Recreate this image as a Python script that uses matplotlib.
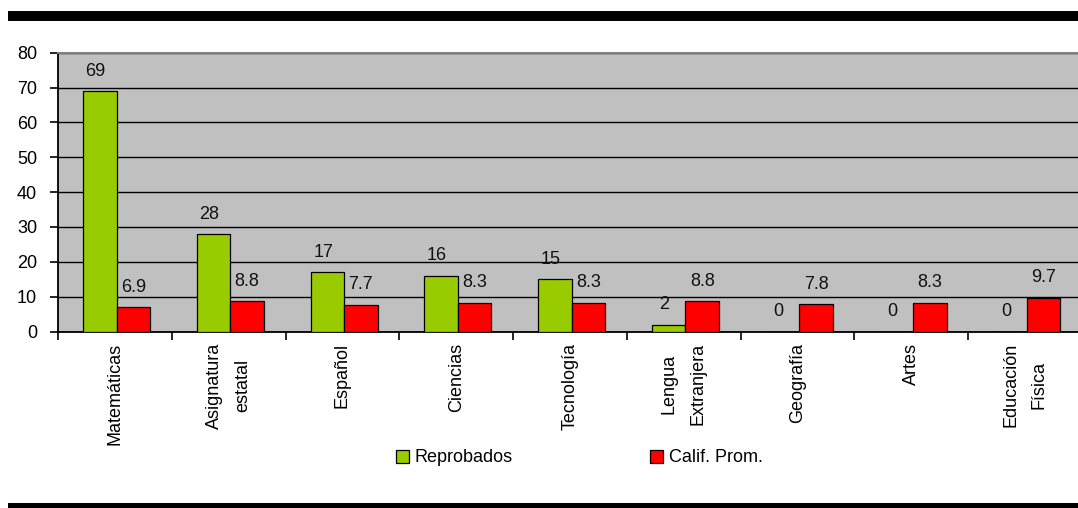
import matplotlib
matplotlib.use("Agg")
import matplotlib.pyplot as plt
from matplotlib.patches import Rectangle, Patch
from matplotlib.ticker import FixedLocator, MultipleLocator
import numpy as np

# Data
materias = ["Matemáticas", "Asignatura\nestatal", "Español", "Ciencias", "Tecnología",
            "Lengua\nExtranjera", "Geografía", "Artes", "Educación\nFísica"]
reprobados = [69, 28, 17, 16, 15, 2, 0, 0, 0]
calif_prom = [6.9, 8.8, 7.7, 8.3, 8.3, 8.8, 7.8, 8.3, 9.7]
yticks = [0, 10, 20, 30, 40, 50, 60, 70, 80]

plt.rcParams["font.family"] = ["Liberation Sans", "DejaVu Sans"]
FS = 13

W, H = 1078, 508
fig = plt.figure(figsize=(W / 100, H / 100), dpi=100, facecolor="white")

# plot area in pixel coordinates (left, top, right, bottom)
px_l, px_t, px_r, px_b = 58, 52.7, 1082, 331.5
ax = fig.add_axes([px_l / W, (H - px_b) / H, (px_r - px_l) / W, (px_b - px_t) / H])
ax.set_facecolor("#C0C0C0")
ax.set_axisbelow(True)

n = len(materias)
centers = np.arange(n) + 0.515
bw = 0.295
green = "#99CC00"
red = "#FF0000"

ax.bar(centers - bw / 2, reprobados, width=bw, color=green, edgecolor="black", linewidth=0.9, zorder=3)
ax.bar(centers + bw / 2, calif_prom, width=bw, color=red, edgecolor="black", linewidth=0.9, zorder=3)

# value labels
for xc, v in zip(centers - bw / 2, reprobados):
    ax.annotate(f"{v:g}", (xc, v), xytext=(-3, 11), textcoords="offset points",
                ha="center", va="baseline", fontsize=FS, color="#111111", zorder=4)
for xc, v in zip(centers + bw / 2, calif_prom):
    ax.annotate(f"{v:g}", (xc, v), xytext=(0, 11), textcoords="offset points",
                ha="center", va="baseline", fontsize=FS, color="#111111", zorder=4)

ax.set_xlim(0, n)
ax.set_ylim(0, 80)
ax.yaxis.set_major_locator(FixedLocator(yticks))
ax.set_yticklabels([str(t) for t in yticks], fontsize=FS)
ax.yaxis.grid(True, color="black", linewidth=1.0)

ax.set_xticks(np.arange(n) + 0.5)
ax.set_xticklabels(materias, rotation=90, fontsize=FS, ha="center", va="top",
                   multialignment="center", linespacing=1.9)
ax.xaxis.set_minor_locator(MultipleLocator(1))
ax.tick_params(axis="x", which="major", length=0, pad=8)
ax.tick_params(axis="x", which="minor", length=6, width=1.2, color="black", direction="out")
ax.tick_params(axis="y", length=6, width=1.2, color="black", direction="out", pad=9)

for s in ["left", "bottom"]:
    ax.spines[s].set_color("black")
    ax.spines[s].set_linewidth(1.3)
ax.spines["top"].set_color("#808080")
ax.spines["top"].set_linewidth(1.4)
ax.spines["right"].set_visible(False)

# legend (two entries placed side by side)
leg_y = (H - 458) / H
h1 = Patch(facecolor=green, edgecolor="black", linewidth=0.9)
h2 = Patch(facecolor=red, edgecolor="black", linewidth=0.9)
for handle, label, x0 in [(h1, "Reprobados", 396), (h2, "Calif. Prom.", 650)]:
    fig.legend([handle], [label], loc="center left", bbox_to_anchor=(x0 / W, leg_y),
               frameon=False, fontsize=FS, handlelength=0.7, handleheight=0.7,
               handletextpad=0.35, borderpad=0, borderaxespad=0)

# black header and footer rules
fig.patches.append(Rectangle((8 / W, (H - 20.7) / H), 1 - 8 / W, 9.7 / H,
                             transform=fig.transFigure, facecolor="black", edgecolor="none"))
fig.patches.append(Rectangle((8 / W, 0), 1 - 8 / W, 5.3 / H,
                             transform=fig.transFigure, facecolor="black", edgecolor="none"))

fig.savefig("out.png", dpi=100, facecolor="white")
